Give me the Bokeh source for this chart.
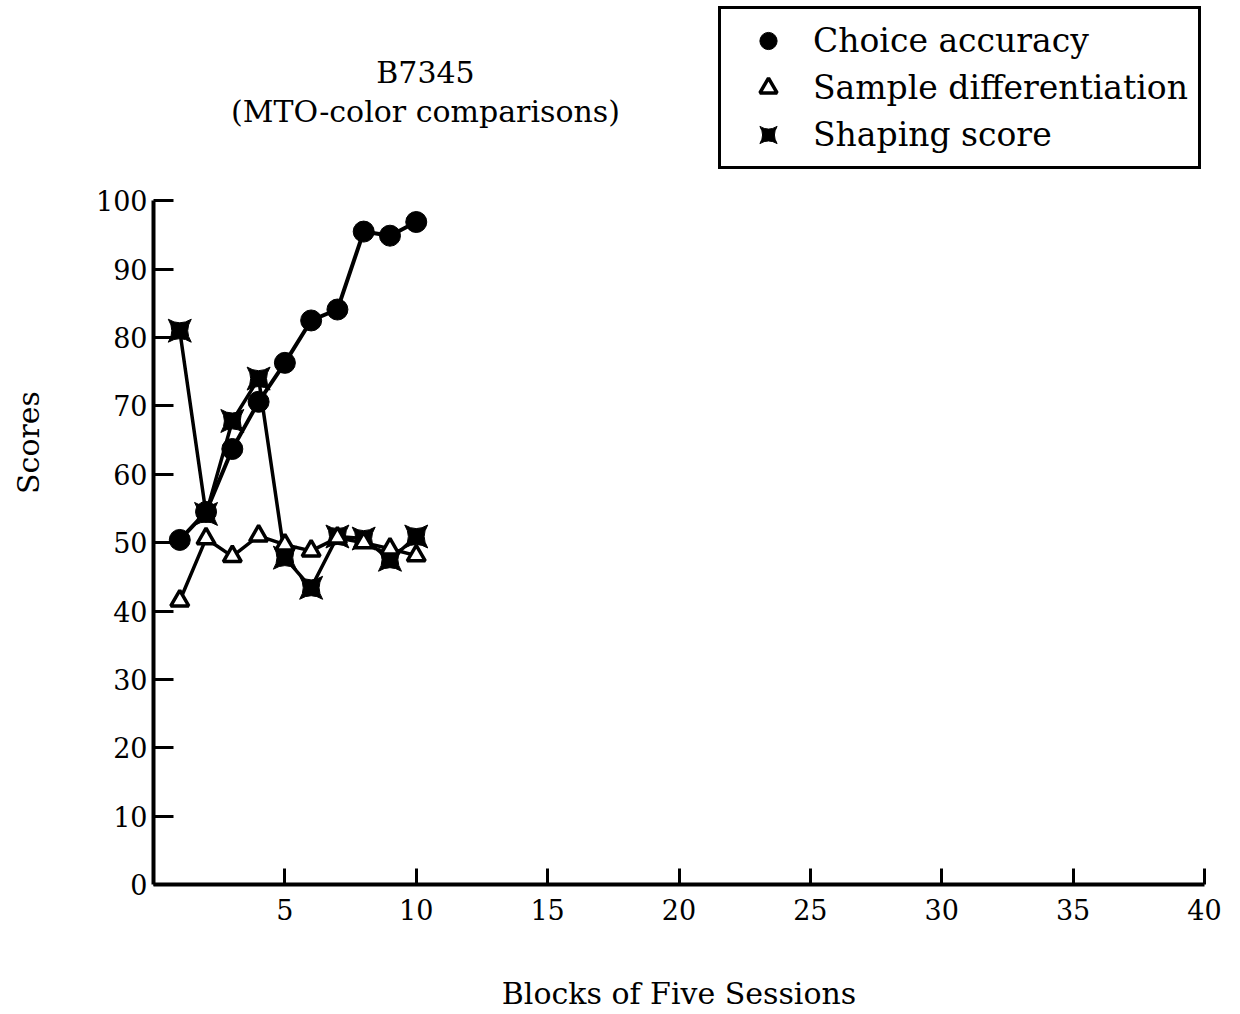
from bokeh.plotting import figure
from bokeh.models import FixedTicker, Label, Legend, LegendItem, Range1d
from bokeh.embed import file_html
from bokeh.resources import INLINE

blocks = [1, 2, 3, 4, 5, 6, 7, 8, 9, 10]
choice_accuracy = [50.4, 54.5, 63.7, 70.6, 76.3, 82.5, 84.1, 95.5, 94.9, 96.9]
sample_diff = [41.5, 50.6, 48.0, 51.0, 49.7, 48.8, 50.7, 50.0, 49.1, 48.1]
shaping_score = [81.0, 54.2, 67.8, 74.0, 47.8, 43.4, 50.9, 50.6, 47.5, 50.9]
x_ticks = [5, 10, 15, 20, 25, 30, 35, 40]
y_ticks = [0, 10, 20, 30, 40, 50, 60, 70, 80, 90, 100]

FONT = "DejaVu Serif"

# frame extends to the top of the canvas so the title and legend sit inside it;
# the axes are bounded to the real data extent (0-40, 0-100)
p = figure(width=1224, height=1014, output_backend="svg", toolbar_location=None,
           x_range=Range1d(0, 40), y_range=Range1d(0, 129.3),
           min_border_left=153, min_border_right=20, min_border_top=0, min_border_bottom=130)
p.outline_line_color = None
p.xgrid.grid_line_color = None
p.ygrid.grid_line_color = None
p.background_fill_color = "white"

for ax in (p.xaxis[0], p.yaxis[0]):
    ax.axis_line_width = 4
    ax.axis_line_color = "black"
    ax.major_tick_line_width = 3
    ax.major_tick_line_color = "black"
    ax.major_tick_out = 0
    ax.minor_tick_line_color = None
    ax.major_label_text_font = FONT
    ax.major_label_text_font_size = "27px"
    ax.major_label_text_color = "black"
    ax.axis_label_text_font = FONT
    ax.axis_label_text_font_style = "normal"
    ax.axis_label_text_font_size = "30px"
    ax.axis_label_text_color = "black"

p.xaxis.bounds = (0, 40)
p.yaxis.bounds = (0, 100)
p.xaxis.ticker = FixedTicker(ticks=x_ticks)
p.yaxis.ticker = FixedTicker(ticks=y_ticks)
p.xaxis.major_tick_in = 16
p.yaxis.major_tick_in = 20
p.xaxis.major_label_standoff = 14
p.yaxis.major_label_standoff = 6
p.xaxis.axis_label = "Blocks of Five Sessions"
p.yaxis.axis_label = "Scores"
p.xaxis.axis_label_standoff = 53
p.yaxis.axis_label_standoff = 47

# lines
p.line(blocks, choice_accuracy, line_color="black", line_width=4)
p.line(blocks, sample_diff, line_color="black", line_width=3.5)
p.line(blocks, shaping_score, line_color="black", line_width=3.5)

r_sh = p.scatter(blocks, shaping_score, marker="square_pin", size=23,
                 fill_color="black", line_color="black", line_width=1)
r_sd = p.scatter(blocks, sample_diff, marker="triangle", size=18,
                 fill_color="white", line_color="black", line_width=3.5)
r_ca = p.scatter(blocks, choice_accuracy, marker="circle", size=21,
                 fill_color="black", line_color="black")

legend = Legend(items=[
    LegendItem(label="Choice accuracy", renderers=[r_ca]),
    LegendItem(label="Sample differentiation", renderers=[r_sd]),
    LegendItem(label="Shaping score", renderers=[r_sh]),
], location=(565, 715))
legend.margin = 0
legend.padding = 10
legend.spacing = 4
legend.label_height = 43
legend.glyph_height = 43
legend.glyph_width = 74
legend.label_standoff = 8
legend.label_text_font = FONT
legend.label_text_font_size = "33px"
legend.label_text_color = "black"
legend.border_line_color = "black"
legend.border_line_width = 3
legend.border_line_alpha = 1
legend.background_fill_alpha = 1
p.add_layout(legend, "center")

p.add_layout(Label(x=10.35, y=118.7, text="B7345", text_align="center", text_baseline="middle",
                   text_font=FONT, text_font_size="30px", text_color="black"))
p.add_layout(Label(x=10.35, y=113.0, text="(MTO-color comparisons)", text_align="center",
                   text_baseline="middle", text_font=FONT, text_font_size="30px", text_color="black"))

open("out.html", "w").write(file_html(p, INLINE))
